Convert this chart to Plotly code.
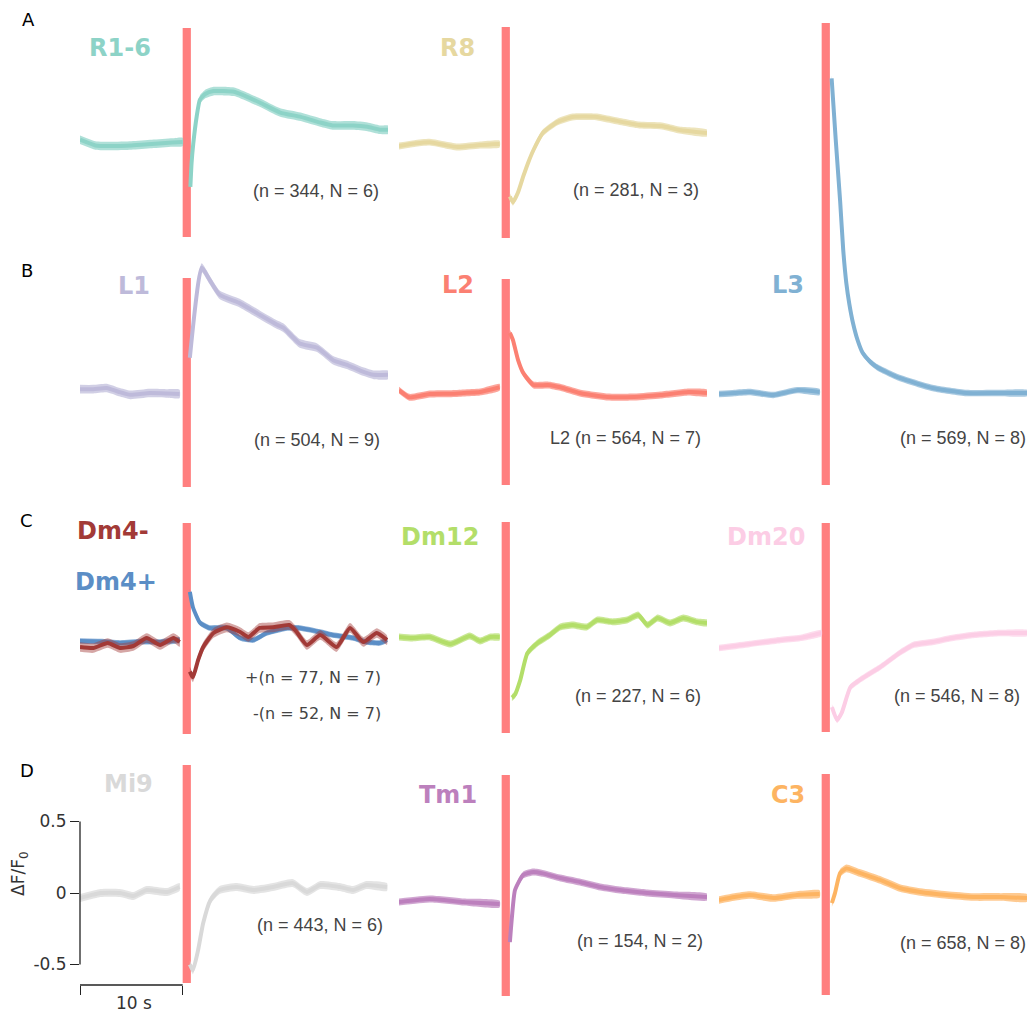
import plotly.graph_objects as go

FIG_W, FIG_H = 1031, 1014
PX_PER_UNIT = 143.0          # vertical pixels per 1.0 dF/F0
T_MIN, T_MAX = -10.0, 20.0   # seconds shown in each panel
FLASH_START, FLASH_END = 0.0, 0.8

# ---------------- data (time in s, response in dF/F0; None = masked flash) ----------------
t_r16 = [-10, -8.5, -7, -5, -3, -1, 0, 0.4, 0.75, 0.87, 1.03, 1.36, 1.68, 2.2, 3.0, 4.0, 5.0, 5.6, 7.5, 9.5, 11.5, 13.4, 14.6, 16.6, 18, 19.2, 20]
v_r16 = [0.03, -0.01, -0.014, -0.01, 0.0, 0.01, 0.014, None, -0.30, -0.13, 0.0, 0.19, 0.31, 0.35, 0.37, 0.37, 0.365, 0.35, 0.29, 0.22, 0.19, 0.15, 0.13, 0.13, 0.12, 0.10, 0.10]

t_r8 = [-10, -8.5, -7, -5.5, -4.3, -2.1, -0.2, 0.4, 0.8, 1.1, 1.6, 2.1, 2.6, 3.1, 4.0, 5.4, 6.9, 9.3, 10.8, 13.4, 15.6, 17.3, 20]
v_r8 = [-0.007, 0.01, 0.02, 0.0, -0.014, 0.0, 0.007, None, -0.36, -0.40, -0.33, -0.22, -0.12, -0.035, 0.084, 0.16, 0.196, 0.196, 0.175, 0.14, 0.133, 0.105, 0.084]

t_l1 = [-10, -8.7, -7.4, -6.2, -5.1, -3.2, -1.5, -0.3, 0.4, 0.7, 1.85, 2.66, 3.6, 5.6, 7.5, 9.2, 9.8, 11.4, 13.1, 14.7, 16, 17.3, 18.6, 20]
v_l1 = [0.02, 0.02, 0.028, 0.0, -0.02, -0.007, -0.01, -0.014, None, 0.24, 0.87, 0.78, 0.68, 0.62, 0.54, 0.47, 0.45, 0.34, 0.31, 0.22, 0.19, 0.15, 0.12, 0.12]

t_l2 = [-10, -9, -7, -5, -3.7, -2.1, -0.2, 0.4, 0.8, 1.1, 1.6, 2.1, 3.1, 4.5, 5.7, 7.6, 10.3, 12.9, 15.5, 18.2, 20]
v_l2 = [0.02, -0.03, -0.007, -0.005, 0.0, 0.007, 0.04, None, 0.42, 0.37, 0.23, 0.14, 0.056, 0.056, 0.04, 0.0, -0.028, -0.028, -0.014, 0.007, 0.0]

t_l3 = [-10, -8.5, -7, -4.7, -2.4, -0.2, 0.4, 0.97, 1.36, 1.8, 2.1, 2.4, 2.7, 3.05, 3.5, 4.0, 4.7, 5.4, 6.5, 7.6, 10.8, 14.1, 17.3, 20]
v_l3 = [-0.007, 0.0, 0.007, -0.014, 0.02, 0.007, None, 2.20, 1.78, 1.34, 1.0, 0.77, 0.62, 0.49, 0.37, 0.28, 0.22, 0.18, 0.14, 0.105, 0.035, 0.0, 0.0, 0.0]

t_dm4m = [-10, -8.7, -7.3, -6.1, -4.8, -3.5, -2.2, -0.9, -0.3, 0.3, 0.7, 1.0, 1.5, 2.0, 3.0, 4.3, 5.6, 6.4, 7.5, 8.8, 10.4, 11.1, 12.1, 13.4, 15.0, 16.3, 17.6, 18.9, 19.9]
v_dm4m = [-0.028, -0.035, 0.0, -0.035, -0.021, 0.035, -0.014, 0.035, 0.007, None, -0.20, -0.24, -0.12, -0.028, 0.07, 0.11, 0.077, 0.042, 0.105, 0.11, 0.126, 0.077, -0.014, 0.056, -0.028, 0.105, 0.007, 0.07, 0.021]

t_dm4p = [-10, -8, -6.1, -4, -2.2, -0.3, 0.3, 0.7, 1.0, 1.7, 2.6, 4.3, 5.6, 6.9, 8.2, 10.2, 11.4, 13.4, 14.6, 16.6, 17.9, 19.2, 19.9]
v_dm4p = [0.014, 0.01, 0.0, 0.01, 0.007, 0.021, None, 0.357, 0.25, 0.14, 0.105, 0.105, 0.035, 0.021, 0.07, 0.105, 0.105, 0.077, 0.056, 0.035, 0.007, 0.0, 0.021]

t_dm12 = [-10, -8.7, -7, -5, -3.1, -2.1, -1.1, -0.2, 0.4, 1.0, 1.3, 1.8, 2.5, 3.5, 4.7, 5.7, 6.9, 8.3, 9.3, 10.8, 12.2, 13.3, 14.2, 15.2, 16.4, 17.7, 19, 20]
v_dm12 = [0.014, 0.007, 0.014, -0.035, 0.021, -0.014, 0.014, 0.014, None, -0.41, -0.39, -0.29, -0.10, -0.028, 0.028, 0.084, 0.098, 0.084, 0.133, 0.12, 0.133, 0.168, 0.098, 0.147, 0.112, 0.147, 0.12, 0.112]

t_dm20 = [-10, -7, -4, -2.1, 0, 0.4, 1.0, 1.5, 1.95, 2.8, 3.7, 5.7, 7.6, 8.9, 10.8, 12.7, 14.7, 17.4, 20]
v_dm20 = [-0.056, -0.028, 0.0, 0.014, 0.049, None, -0.47, -0.56, -0.51, -0.33, -0.28, -0.19, -0.09, -0.035, -0.014, 0.014, 0.035, 0.049, 0.049]

t_mi9 = [-10, -8, -6.1, -4.8, -3.5, -1.5, -0.3, 0.3, 0.7, 1.0, 1.5, 2.0, 2.7, 3.6, 5.3, 6.9, 8.8, 10.7, 12.1, 13.4, 15.3, 16.6, 17.9, 19.9]
v_mi9 = [-0.035, 0.0, 0.0, -0.021, 0.021, 0.007, 0.042, None, -0.50, -0.54, -0.40, -0.21, -0.05, 0.021, 0.042, 0.021, 0.042, 0.07, 0.007, 0.056, 0.042, 0.021, 0.056, 0.042]

t_tm1 = [-10, -7, -3.7, -0.2, 0.4, 0.8, 1.0, 1.3, 2.1, 3.1, 4.0, 5.7, 7.6, 9.6, 11.5, 14.2, 16.8, 20]
v_tm1 = [0.0, 0.021, 0.0, -0.014, None, -0.28, -0.105, 0.084, 0.19, 0.21, 0.20, 0.168, 0.14, 0.105, 0.084, 0.063, 0.049, 0.035]

t_c3 = [-10, -8.5, -7, -4.7, -2.4, -0.2, 0.4, 1.0, 1.3, 1.8, 2.4, 3.7, 5.7, 7.6, 9.6, 12.2, 14.8, 17.4, 20]
v_c3 = [-0.021, 0.0, 0.014, -0.007, 0.014, 0.021, None, -0.042, 0.028, 0.168, 0.20, 0.168, 0.119, 0.063, 0.035, 0.014, 0.0, 0.0, -0.007]

# SEM (half width of shaded band), dF/F0
sem = {"R1-6": 0.03, "R8": 0.024, "L1": 0.03, "L2": 0.024, "L3": 0.022, "Dm4+": 0.02,
       "Dm4-": 0.034, "Dm12": 0.024, "Dm20": 0.022, "Mi9": 0.028, "Tm1": 0.024, "C3": 0.027}

n_text = {"R1-6": ["(n = 344, N = 6)"], "R8": ["(n = 281, N = 3)"], "L1": ["(n = 504, N = 9)"],
          "L2": ["L2 (n = 564, N = 7)"], "L3": ["(n = 569, N = 8)"],
          "Dm4": ["+(n = 77, N = 7)", "-(n = 52, N = 7)"], "Dm12": ["(n = 227, N = 6)"],
          "Dm20": ["(n = 546, N = 8)"], "Mi9": ["(n = 443, N = 6)"], "Tm1": ["(n = 154, N = 2)"],
          "C3": ["(n = 658, N = 8)"]}

y_ticks = [-0.5, 0, 0.5]
y_tick_text = ["-0.5", "0", "0.5"]
scale_bar_s = 10

# ---------------- styling ----------------
colors = {"R1-6": "#8dd3c7", "R8": "#e6d8a0", "L1": "#bebada", "L2": "#fb8072", "L3": "#80b1d3",
          "Dm4-": "#a23a37", "Dm4+": "#5b8ec6", "Dm12": "#b3de69", "Dm20": "#fccde5",
          "Mi9": "#d9d9d9", "Tm1": "#bc80bd", "C3": "#fdb462"}
FLASH_COLOR = "#ff7f7f"
LINE_W = 4.0

COL_LEFT = [80, 399, 719]
COL_W = 308

# panel geometry in pixels: column, domain (top,bottom), zero-level px, flash bar (top,bottom)
panels = [
    dict(key="R1-6", col=0, dom=(22, 242), zero=144, bar=(28, 237), series=[("R1-6", t_r16, v_r16)],
         labels=[("R1-6", 153, 48)], ntx=[(381, 191)]),
    dict(key="R8", col=1, dom=(22, 242), zero=145, bar=(27, 238), series=[("R8", t_r8, v_r8)],
         labels=[("R8", 477, 48)], ntx=[(701, 190)]),
    dict(key="L3", col=2, dom=(18, 490), zero=393, bar=(23, 485), series=[("L3", t_l3, v_l3)],
         labels=[("L3", 806, 285)], ntx=[(1028, 438)]),
    dict(key="L1", col=0, dom=(258, 490), zero=392, bar=(278, 487), series=[("L1", t_l1, v_l1)],
         labels=[("L1", 152, 286)], ntx=[(382, 440)]),
    dict(key="L2", col=1, dom=(268, 490), zero=393, bar=(279, 485), series=[("L2", t_l2, v_l2)],
         labels=[("L2", 476, 285)], ntx=[(703, 438)]),
    dict(key="Dm4", col=0, dom=(515, 738), zero=643, bar=(523, 734),
         series=[("Dm4+", t_dm4p, v_dm4p), ("Dm4-", t_dm4m, v_dm4m)],
         labels=[("Dm4-", 151, 531), ("Dm4+", 159, 582)], ntx=[(383, 677), (383, 713)]),
    dict(key="Dm12", col=1, dom=(515, 738), zero=639, bar=(522, 733), series=[("Dm12", t_dm12, v_dm12)],
         labels=[("Dm12", 481, 537)], ntx=[(703, 696)]),
    dict(key="Dm20", col=2, dom=(515, 738), zero=640, bar=(523, 732), series=[("Dm20", t_dm20, v_dm20)],
         labels=[("Dm20", 807, 537)], ntx=[(1022, 696)]),
    dict(key="Mi9", col=0, dom=(758, 985), zero=893, bar=(765, 983), series=[("Mi9", t_mi9, v_mi9)],
         labels=[("Mi9", 155, 784)], ntx=[(385, 925)]),
    dict(key="Tm1", col=1, dom=(768, 1000), zero=902, bar=(775, 996), series=[("Tm1", t_tm1, v_tm1)],
         labels=[("Tm1", 479, 795)], ntx=[(705, 941)]),
    dict(key="C3", col=2, dom=(768, 1000), zero=897, bar=(774, 995), series=[("C3", t_c3, v_c3)],
         labels=[("C3", 807, 795)], ntx=[(1028, 943)]),
]

panel_letters = [("A", 28, 20), ("B", 27, 270), ("C", 26, 520), ("D", 27, 770)]


def px(x):
    return x / FIG_W


def py(y):
    return 1 - y / FIG_H


def rgba(hex_color, a):
    h = hex_color.lstrip("#")
    r, g, b = int(h[0:2], 16), int(h[2:4], 16), int(h[4:6], 16)
    return f"rgba({r},{g},{b},{a})"


def segments(ts, vs):
    segs, cur = [], ([], [])
    for t, v in zip(ts, vs):
        if v is None:
            if cur[0]:
                segs.append(cur)
            cur = ([], [])
        else:
            cur[0].append(t)
            cur[1].append(v)
    if cur[0]:
        segs.append(cur)
    return segs


fig = go.Figure()
layout = dict(width=FIG_W, height=FIG_H, margin=dict(l=0, r=0, t=0, b=0),
              paper_bgcolor="white", plot_bgcolor="rgba(0,0,0,0)", showlegend=False)
shapes, annotations = [], []

for i, p in enumerate(panels, start=1):
    xa, ya = f"xaxis{i}", f"yaxis{i}"
    xr, yr = f"x{i}", f"y{i}"
    left = COL_LEFT[p["col"]]
    top, bot = p["dom"]
    y_lo = (p["zero"] - bot) / PX_PER_UNIT
    y_hi = (p["zero"] - top) / PX_PER_UNIT
    layout[xa] = dict(domain=[px(left), px(left + COL_W)], range=[T_MIN, T_MAX], anchor=yr,
                      visible=False, fixedrange=True)
    layout[ya] = dict(domain=[py(bot), py(top)], range=[y_lo, y_hi], anchor=xr,
                      visible=False, fixedrange=True)

    # flash bar
    b_top = (p["zero"] - p["bar"][0]) / PX_PER_UNIT
    b_bot = (p["zero"] - p["bar"][1]) / PX_PER_UNIT
    shapes.append(dict(type="rect", xref=xr, yref=yr, x0=FLASH_START, x1=FLASH_END, y0=b_bot, y1=b_top,
                       fillcolor=FLASH_COLOR, line=dict(width=0), layer="below"))

    for name, ts, vs in p["series"]:
        c = colors[name]
        s = sem[name]
        for st, sv in segments(ts, vs):
            up = [v + s for v in sv]
            lo = [v - s for v in sv]
            band_alpha = 0.45 if name == "Dm4-" else 0.7
            fig.add_trace(go.Scatter(x=st + st[::-1], y=up + lo[::-1], fill="toself",
                                     fillcolor=rgba(c, band_alpha), line=dict(width=0, shape="spline", smoothing=0.5),
                                     mode="lines", hoverinfo="skip", xaxis=xr, yaxis=yr))
            fig.add_trace(go.Scatter(x=st, y=sv, mode="lines",
                                     line=dict(color=c, width=LINE_W, shape="spline", smoothing=0.5),
                                     xaxis=xr, yaxis=yr, name=name))

    for (txt, rx, cy) in p["labels"]:
        annotations.append(dict(text=f"<b>{txt}</b>", x=px(rx), y=py(cy), xref="paper", yref="paper",
                                xanchor="right", yanchor="middle", showarrow=False,
                                font=dict(family="DejaVu Sans", size=24, color=colors[txt])))
    for txt, (rx, cy) in zip(n_text[p["key"]], p["ntx"]):
        fam, sz = ("DejaVu Sans", 16) if p["key"] == "Dm4" else ("Liberation Sans", 18)
        annotations.append(dict(text=txt, x=px(rx), y=py(cy), xref="paper", yref="paper",
                                xanchor="right", yanchor="middle", showarrow=False,
                                font=dict(family=fam, size=sz, color="#444444")))

    if p["key"] == "Mi9":
        # show scale axes on the Mi9 panel
        layout[xa].update(visible=True, showgrid=False, zeroline=False, showline=False,
                          ticks="outside", tickvals=[T_MIN, T_MIN + scale_bar_s], showticklabels=False,
                          ticklen=9, tickwidth=1.3, tickcolor="#222222")
        layout[ya].update(visible=True, showgrid=False, zeroline=False, showline=False,
                          ticks="outside", tickvals=y_ticks, ticktext=y_tick_text, ticklen=9,
                          tickwidth=1.3, tickcolor="#222222",
                          tickfont=dict(family="DejaVu Sans", size=17, color="#333333"))
        shapes.append(dict(type="line", xref=f"{xr} domain", yref=yr, x0=0, x1=0,
                           y0=min(y_ticks), y1=max(y_ticks), line=dict(color="#222222", width=1.3)))
        shapes.append(dict(type="line", xref=xr, yref=f"{yr} domain", x0=T_MIN, x1=T_MIN + scale_bar_s,
                           y0=0, y1=0, line=dict(color="#222222", width=1.3)))
        annotations.append(dict(text=f"{scale_bar_s} s", x=px(left + COL_W * scale_bar_s / (T_MAX - T_MIN) / 2 + 3),
                                y=py(1003), xref="paper", yref="paper", xanchor="center", yanchor="middle",
                                showarrow=False, font=dict(family="DejaVu Sans", size=17, color="#333333")))
        annotations.append(dict(text="ΔF/F<sub>0</sub>", x=px(19), y=py(874), xref="paper", yref="paper",
                                xanchor="center", yanchor="middle", textangle=-90, showarrow=False,
                                font=dict(family="DejaVu Sans", size=17, color="#333333")))

for letter, cx, cy in panel_letters:
    annotations.append(dict(text=letter, x=px(cx), y=py(cy), xref="paper", yref="paper",
                            xanchor="center", yanchor="middle", showarrow=False,
                            font=dict(family="DejaVu Sans", size=18, color="black")))

layout["shapes"] = shapes
layout["annotations"] = annotations
fig.update_layout(**layout)
fig.write_html("out.html")
